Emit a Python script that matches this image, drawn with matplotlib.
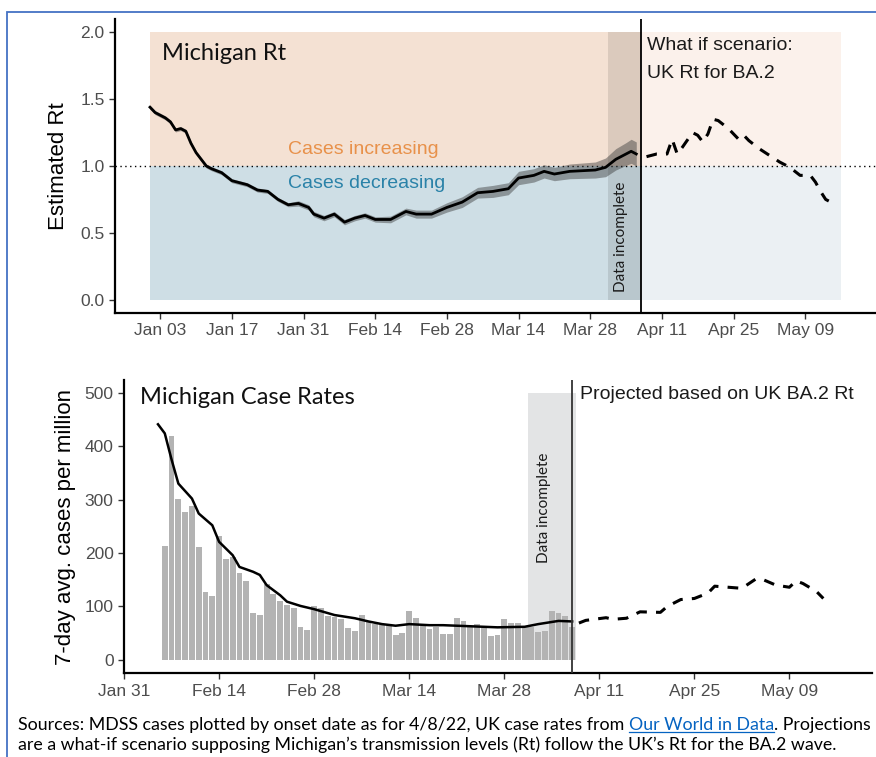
# Michigan Rt and case rates with a UK BA.2 what-if projection.
import numpy as np
import pandas as pd
import matplotlib
matplotlib.use('Agg')
import matplotlib.pyplot as plt
import matplotlib.dates as mdates
from matplotlib.patches import Rectangle

# ---------------------------------------------------------------------------#
# Data.
# ---------------------------------------------------------------------------#
rt_dates = ['2022-01-01', '2022-01-02', '2022-01-03', '2022-01-04', '2022-01-05',
            '2022-01-06', '2022-01-07', '2022-01-08', '2022-01-09', '2022-01-10',
            '2022-01-11', '2022-01-12', '2022-01-13', '2022-01-15', '2022-01-17',
            '2022-01-20', '2022-01-22', '2022-01-24', '2022-01-26', '2022-01-28',
            '2022-01-30', '2022-02-01', '2022-02-02', '2022-02-04', '2022-02-06',
            '2022-02-08', '2022-02-10', '2022-02-12', '2022-02-14', '2022-02-17',
            '2022-02-20', '2022-02-22', '2022-02-25', '2022-02-28', '2022-03-03',
            '2022-03-06', '2022-03-09', '2022-03-12', '2022-03-14', '2022-03-17',
            '2022-03-19', '2022-03-21', '2022-03-24', '2022-03-29', '2022-03-31',
            '2022-04-02', '2022-04-04', '2022-04-05', '2022-04-06']
rt_values = [1.44, 1.40, 1.38, 1.36, 1.33, 1.27, 1.28, 1.26, 1.17, 1.10,
             1.05, 1.00, 0.98, 0.95, 0.89, 0.86, 0.82, 0.81, 0.75, 0.71,
             0.72, 0.69, 0.64, 0.61, 0.64, 0.58, 0.61, 0.63, 0.60, 0.60,
             0.66, 0.64, 0.64, 0.69, 0.73, 0.80, 0.81, 0.83, 0.91, 0.93,
             0.96, 0.94, 0.96, 0.97, 0.99, 1.05, 1.09, 1.11, 1.09]
rt_ci = [0.015, 0.015, 0.015, 0.015, 0.015, 0.015, 0.015, 0.015, 0.015, 0.015,
         0.015, 0.015, 0.015, 0.015, 0.015, 0.015, 0.015, 0.015, 0.015, 0.015,
         0.02, 0.02, 0.02, 0.02, 0.02, 0.02, 0.02, 0.02, 0.02, 0.025,
         0.025, 0.03, 0.03, 0.035, 0.04, 0.04, 0.045, 0.045, 0.05, 0.05,
         0.05, 0.05, 0.055, 0.06, 0.07, 0.08, 0.085, 0.09, 0.09]

proj_rt_dates = ['2022-04-08', '2022-04-10', '2022-04-12', '2022-04-13', '2022-04-14',
                 '2022-04-15', '2022-04-17', '2022-04-18', '2022-04-19', '2022-04-20',
                 '2022-04-21', '2022-04-22', '2022-04-24', '2022-04-26', '2022-04-27',
                 '2022-04-28', '2022-04-30', '2022-05-02', '2022-05-04', '2022-05-06',
                 '2022-05-08', '2022-05-10', '2022-05-11', '2022-05-12', '2022-05-13',
                 '2022-05-15']
proj_rt_values = [1.07, 1.09, 1.09, 1.20, 1.09, 1.14, 1.25, 1.23, 1.18, 1.24,
                  1.35, 1.34, 1.28, 1.20, 1.23, 1.19, 1.13, 1.08, 1.03, 0.99,
                  0.93, 0.93, 0.88, 0.81, 0.75, 0.71]

# Daily case rates (bars) from Feb 06 to Apr 07.
case_start = '2022-02-06'
case_bars = [214, 420, 301, 276, 288, 211, 127, 120, 232, 189,
             193, 162, 148, 87, 85, 142, 123, 110, 103, 97,
             61, 56, 100, 97, 82, 80, 76, 59, 55, 84,
             73, 68, 65, 65, 46, 50, 92, 78, 64, 58,
             62, 48, 48, 78, 73, 62, 67, 61, 44, 47,
             76, 70, 69, 61, 61, 53, 54, 92, 87, 83, 61]

avg_dates = ['2022-02-05', '2022-02-06', '2022-02-07', '2022-02-08', '2022-02-10',
             '2022-02-11', '2022-02-13', '2022-02-14', '2022-02-16', '2022-02-17',
             '2022-02-19', '2022-02-20', '2022-02-21', '2022-02-23', '2022-02-24',
             '2022-02-26', '2022-02-28', '2022-03-03', '2022-03-05', '2022-03-06',
             '2022-03-08', '2022-03-10', '2022-03-12', '2022-03-14', '2022-03-17',
             '2022-03-19', '2022-03-21', '2022-03-27', '2022-03-31', '2022-04-02',
             '2022-04-05', '2022-04-07']
avg_values = [441, 424, 375, 330, 302, 274, 252, 221, 196, 174,
              165, 159, 140, 121, 109, 101, 95, 84, 80, 78,
              72, 67, 64, 67, 65, 65, 64, 61, 62, 67, 73, 72]

proj_case_dates = ['2022-04-08', '2022-04-09', '2022-04-12', '2022-04-13', '2022-04-15',
                   '2022-04-17', '2022-04-20', '2022-04-21', '2022-04-23', '2022-04-25',
                   '2022-04-27', '2022-04-28', '2022-04-30', '2022-05-02', '2022-05-04',
                   '2022-05-05', '2022-05-07', '2022-05-09', '2022-05-10', '2022-05-11',
                   '2022-05-13', '2022-05-14']
proj_case_values = [69, 74, 79, 76, 78, 90, 89, 100, 113, 115,
                    125, 138, 136, 134, 151, 151, 140, 136, 148, 143, 128, 115]

# ---------------------------------------------------------------------------#
# Styles.
# ---------------------------------------------------------------------------#
AxisFont = 'Liberation Sans'
BoxFont = 'Lato'
TickColor = '#4D4D4D'
OrangeFill = '#F4E1D3'
BlueFill = '#CEDEE5'
OrangeLight = '#FBF1EB'
BlueLight = '#EBF0F3'

D = lambda s: pd.Timestamp(s)

rt_x = pd.to_datetime(rt_dates)
rt_y = np.array(rt_values)
rt_c = np.array(rt_ci)
case_x = pd.date_range(case_start, periods=len(case_bars), freq='D')

fig = plt.figure(figsize=(8.76, 7.57), dpi=100)


def StyleAxes(ax):
    for s in ['top', 'right']:
        ax.spines[s].set_visible(False)
    for s in ['left', 'bottom']:
        ax.spines[s].set_linewidth(1.6)
        ax.spines[s].set_color('black')
    ax.tick_params(axis='both', direction='out', length=4, width=1, color='#333333',
                   labelcolor=TickColor, labelsize=12.5)
    for lab in ax.get_xticklabels() + ax.get_yticklabels():
        lab.set_fontname(AxisFont)
    ax.set_facecolor('white')


# ---------------------------------------------------------------------------#
# Top panel: Rt.
# ---------------------------------------------------------------------------#
ax1 = fig.add_axes([0.1313, 0.5865, 0.8687, 0.3884])

ax1.fill_between([D('2022-01-01'), D('2022-04-07')], 1.0, 2.0, color=OrangeFill, lw=0, zorder=0)
ax1.fill_between([D('2022-01-01'), D('2022-04-07')], 0.0, 1.0, color=BlueFill, lw=0, zorder=0)
ax1.fill_between([D('2022-04-07'), D('2022-05-16')], 1.0, 2.0, color=OrangeLight, lw=0, zorder=0)
ax1.fill_between([D('2022-04-07'), D('2022-05-16')], 0.0, 1.0, color=BlueLight, lw=0, zorder=0)
ax1.fill_between([D('2022-03-31 12:00'), D('2022-04-07')], 0.0, 2.0, color='black',
                 alpha=0.1, lw=0, zorder=1)

ax1.axhline(1.0, color='black', lw=1, ls=(0, (1, 2.5)), zorder=2)
ax1.fill_between(rt_x, rt_y - rt_c, rt_y + rt_c, color='#3a3a3a', alpha=0.45, lw=0, zorder=3)
ax1.plot(rt_x, rt_y, color='black', lw=2, zorder=4)
ax1.plot(pd.to_datetime(proj_rt_dates), proj_rt_values, color='black', lw=2.2,
         ls=(0, (3.5, 3)), zorder=4)
ax1.axvline(D('2022-04-07'), color='black', lw=1.3, zorder=5)

ax1.text(D('2022-01-03 08:00'), 1.84, 'Michigan Rt', fontname=BoxFont, fontsize=17,
         color='#111111', va='center', ha='left')
ax1.text(D('2022-01-28'), 1.125, 'Cases increasing', fontname=AxisFont, fontsize=14,
         color='#E8914A', va='center', ha='left')
ax1.text(D('2022-01-28'), 0.87, 'Cases decreasing', fontname=AxisFont, fontsize=14,
         color='#2A82A8', va='center', ha='left')
ax1.text(D('2022-04-08 03:00'), 1.90, 'What if scenario:', fontname=AxisFont, fontsize=14,
         color='#1A1A1A', va='center', ha='left')
ax1.text(D('2022-04-08 03:00'), 1.69, 'UK Rt for BA.2', fontname=AxisFont, fontsize=14,
         color='#1A1A1A', va='center', ha='left')
ax1.text(D('2022-04-03 02:00'), 0.47, 'Data incomplete', fontname=BoxFont, fontsize=11,
         color='#1A1A1A', va='center', ha='center', rotation=90, zorder=6)

ax1.set_xlim(D('2021-12-25 04:00'), D('2022-05-22 20:00'))
ax1.set_ylim(-0.1, 2.1)
ax1.set_yticks([0.0, 0.5, 1.0, 1.5, 2.0])
ax1.set_yticklabels(['0.0', '0.5', '1.0', '1.5', '2.0'])
ax1.set_xticks(pd.date_range('2022-01-03', '2022-05-09', freq='14D'))
ax1.xaxis.set_major_formatter(mdates.DateFormatter('%b %d'))
ax1.set_ylabel('Estimated Rt', fontname=AxisFont, fontsize=16, labelpad=8)
StyleAxes(ax1)

# ---------------------------------------------------------------------------#
# Bottom panel: case rates.
# ---------------------------------------------------------------------------#
ax2 = fig.add_axes([0.1416, 0.1106, 0.8535, 0.3875])

ax2.fill_between([D('2022-03-31 12:00'), D('2022-04-07 12:00')], 0, 500, color='#E3E4E5',
                 lw=0, zorder=0)
ax2.bar(case_x, case_bars, width=0.86, color='#B3B3B3', zorder=1)
ax2.plot(pd.to_datetime(avg_dates), avg_values, color='black', lw=1.8, zorder=3)
ax2.plot(pd.to_datetime(proj_case_dates), proj_case_values, color='black', lw=2.2,
         ls=(0, (3.5, 3)), zorder=3)
ax2.axvline(D('2022-04-07'), color='#333333', lw=1.3, zorder=4)

ax2.text(D('2022-02-02 09:00'), 492, 'Michigan Case Rates', fontname=BoxFont, fontsize=17,
         color='#111111', va='center', ha='left')
ax2.text(D('2022-04-08 05:00'), 497, 'Projected based on UK BA.2 Rt', fontname=AxisFont,
         fontsize=14, color='#1A1A1A', va='center', ha='left')
ax2.text(D('2022-04-02 19:00'), 285, 'Data incomplete', fontname=BoxFont, fontsize=11,
         color='#1A1A1A', va='center', ha='center', rotation=90, zorder=5)

ax2.set_xlim(D('2022-01-31'), D('2022-05-21 03:00'))
ax2.set_ylim(-25, 524)
ax2.set_yticks([0, 100, 200, 300, 400, 500])
ax2.set_xticks(pd.date_range('2022-01-31', '2022-05-09', freq='14D'))
ax2.xaxis.set_major_formatter(mdates.DateFormatter('%b %d'))
ax2.set_ylabel('7-day avg. cases per million', fontname=AxisFont, fontsize=16, labelpad=6)
StyleAxes(ax2)

# ---------------------------------------------------------------------------#
# Frame and footer text.
# ---------------------------------------------------------------------------#
fig.add_artist(Rectangle((7 / 876, -0.2), 1.2, 1.2 - 12 / 757, transform=fig.transFigure,
                         fill=False, edgecolor='#4472C4', lw=1.3, clip_on=False))

FootSize = 12.8
y1 = 1 - 725 / 757
y2 = 1 - 745 / 757
t1 = fig.text(18 / 876, y1, 'Sources: MDSS cases plotted by onset date as for 4/8/22, UK case rates from ',
              fontname=BoxFont, fontsize=FootSize, color='black', va='center', ha='left')
fig.canvas.draw()
r = fig.canvas.get_renderer()
bb = t1.get_window_extent(r)
inv = fig.transFigure.inverted()
xa = inv.transform((bb.x1, 0))[0]
t2 = fig.text(xa, y1, 'Our World in Data', fontname=BoxFont, fontsize=FootSize,
              color='#0563C1', va='center', ha='left')
bb2 = t2.get_window_extent(r)
xb = inv.transform((bb2.x1, 0))[0]
yu = inv.transform((0, bb2.y0 + 1))[1]
fig.add_artist(plt.Line2D([xa, xb], [yu, yu], transform=fig.transFigure, color='#0563C1', lw=0.9))
fig.text(xb, y1, '. Projections', fontname=BoxFont, fontsize=FootSize, color='black',
         va='center', ha='left')
fig.text(18 / 876, y2, 'are a what-if scenario supposing Michigan\u2019s transmission levels (Rt) '
         'follow the UK\u2019s Rt for the BA.2 wave.', fontname=BoxFont, fontsize=FootSize,
         color='black', va='center', ha='left')

fig.savefig('out.png', dpi=100)
